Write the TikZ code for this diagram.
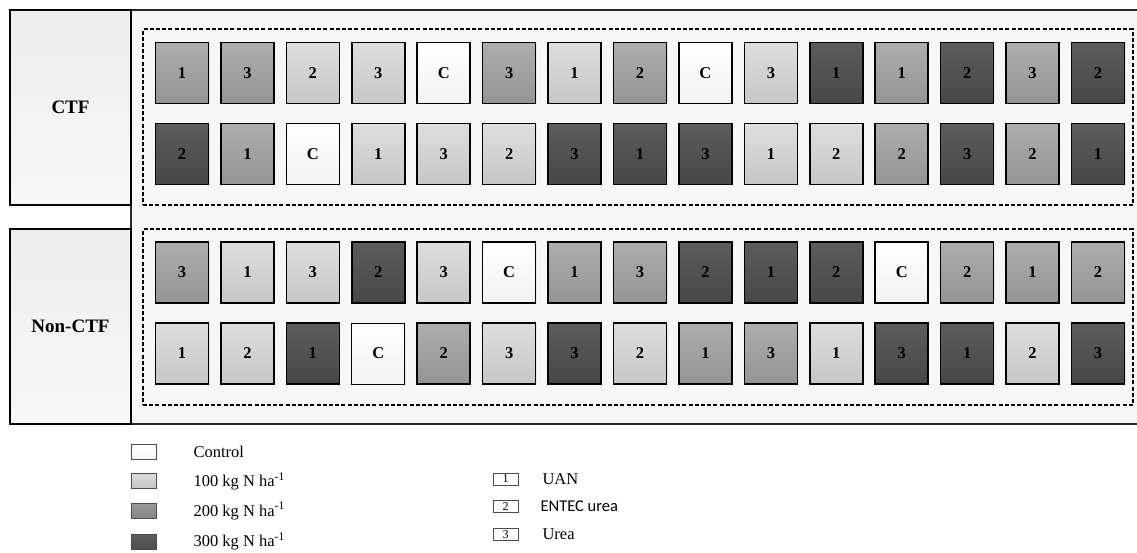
\documentclass[tikz,border=0pt]{standalone}
\usepackage{fontspec}
\setmainfont{Liberation Serif}
\newfontfamily\entecfont{Carlito}
\usetikzlibrary{positioning,shadows}

\begin{document}
\begin{tikzpicture}[
    x=1pt, y=-1pt,
    plotbox/.style={rectangle, draw=black, line width=1.6pt, minimum width=53pt, minimum height=61pt, inner sep=0pt,
        font=\bfseries\fontsize{16.5}{19}\selectfont, drop shadow={opacity=0.12, shadow xshift=1pt, shadow yshift=-1pt}},
    lvl0/.style={plotbox, top color=white, bottom color=black!5},
    lvl1/.style={plotbox, top color=black!13, bottom color=black!22},
    lvl2/.style={plotbox, top color=black!32, bottom color=black!42},
    lvl3/.style={plotbox, top color=black!64, bottom color=black!72},
    lvlz/.style={lvl0, line width=0.8pt, drop shadow={opacity=0}},
    sitebox/.style={rectangle, draw=black, line width=1.5pt, minimum width=121pt, minimum height=195pt,
        top color=black!7, bottom color=black!3, font=\bfseries\fontsize{19}{22}\selectfont},
    zone/.style={rectangle, draw=black, line width=1.3pt, dash pattern=on 4pt off 2.2pt, minimum width=990pt, minimum height=176pt},
    legbox/.style={rectangle, draw=black!70, line width=0.7pt, minimum width=25pt, minimum height=15pt, inner sep=0pt},
    legnum/.style={rectangle, draw=black!70, line width=0.7pt, minimum width=25pt, minimum height=12pt, inner sep=0pt,
        font=\fontsize{12}{12}\selectfont},
    legtext/.style={inner sep=0pt, anchor=west, font=\fontsize{16.5}{19}\selectfont}
]
    \useasboundingbox (0,0) rectangle (1137,553);

    % field frame
    \fill[black!3] (131,10) rectangle (1137,424);
    \draw[black!85, line width=1.5pt] (1137,10) -- (131,10) -- (131,424) -- (1137,424);

    \node [sitebox] (ctf) at (70.5,107.5) {CTF};
    \node [sitebox] (nonctf) at (70.5,326.5) {Non-CTF};

    \node [zone] (ctfzone) at (638,117) {};
    \node [zone] (nonzone) at (638,317) {};

    % plots: label/level
    \foreach \r/\yy/\seq in {
        ctfa/73/{1/2,3/2,2/1,3/1,C/0,3/2,1/1,2/2,C/0,3/1,1/3,1/2,2/3,3/2,2/3},
        ctfb/154/{2/3,1/2,C/0,1/1,3/1,2/1,3/3,1/3,3/3,1/1,2/1,2/2,3/3,2/2,1/3},
        nona/272.5/{3/2,1/1,3/1,2/3,3/1,C/0,1/2,3/2,2/3,1/3,2/3,C/0,2/2,1/2,2/2},
        nonb/353.5/{1/1,2/1,1/3,C/z,2/2,3/1,3/3,2/1,1/2,3/2,1/1,3/3,1/3,2/1,3/3}}
    {
        \foreach \lab/\lv [count=\i] in \seq
            \node [lvl\lv] (\r-\i) at ({182+65.43*(\i-1)},\yy) {\lab};
    }

    % legend: rates
    \node [legbox, top color=white, bottom color=black!3] (legc) at (143.5,451.5) {};
    \node [legbox, top color=black!15, bottom color=black!22, below=14pt of legc] (leg1) {};
    \node [legbox, top color=black!40, bottom color=black!48, below=14pt of leg1] (leg2) {};
    \node [legbox, top color=black!63, bottom color=black!70, below=15pt of leg2] (leg3) {};
    \node [legtext, right=37pt of legc] (legctext) {Control};
    \node [legtext, right=37pt of leg1] (leg1text) {100 kg N ha\textsuperscript{-1}};
    \node [legtext, right=37pt of leg2] (leg2text) {200 kg N ha\textsuperscript{-1}};
    \node [legtext, right=37pt of leg3] (leg3text) {300 kg N ha\textsuperscript{-1}};

    % legend: sources
    \node [legnum] (src1) at (505.5,479) {1};
    \node [legnum, below=15pt of src1] (src2) {2};
    \node [legnum, below=15pt of src2] (src3) {3};
    \node [legtext, right=24pt of src1] (src1text) {UAN};
    \node [legtext, right=22pt of src2, font=\entecfont\fontsize{16.5}{19}\selectfont] (src2text) {ENTEC urea};
    \node [legtext, right=24pt of src3] (src3text) {Urea};
\end{tikzpicture}
\end{document}
